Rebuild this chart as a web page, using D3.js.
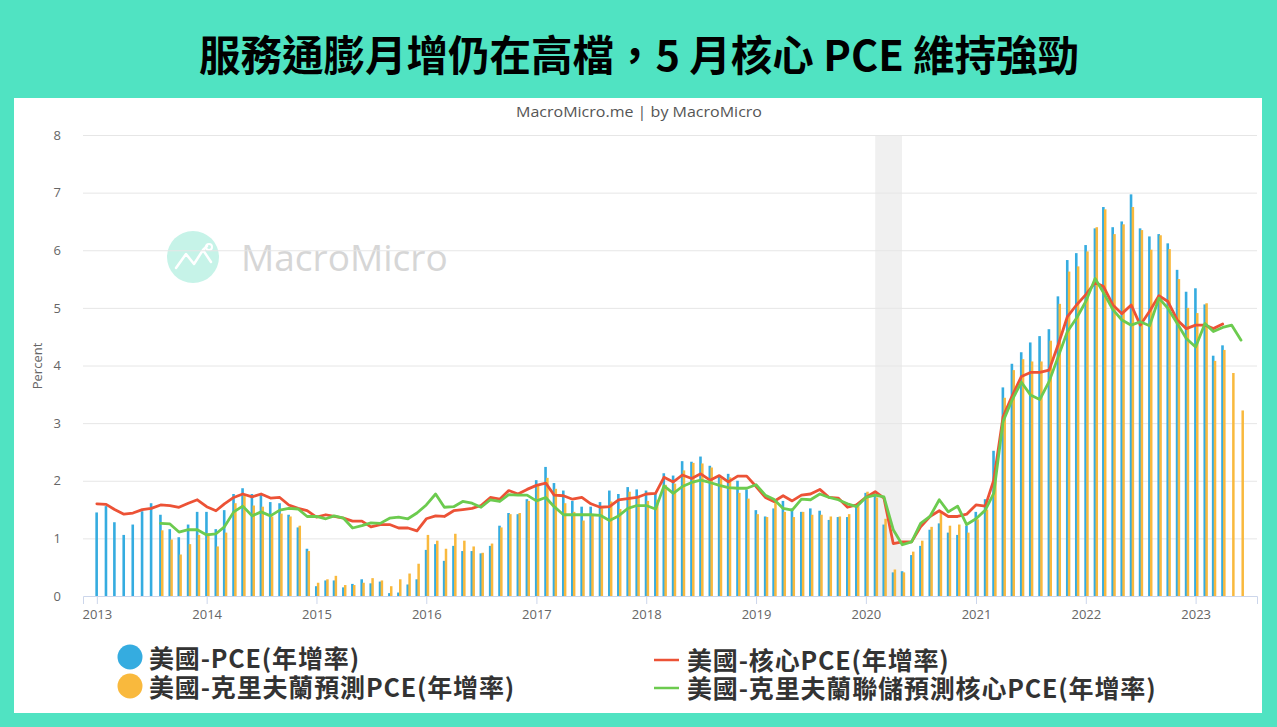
<!DOCTYPE html>
<html>
<head>
<meta charset="utf-8">
<script src="https://cdn.jsdelivr.net/npm/d3@7"></script>
<style>
  html, body { margin: 0; padding: 0; background: #50e3c2; }
  svg { display: block; }
</style>
</head>
<body>
<svg id="chart" width="1277" height="727"></svg>
<script>
// ---------------- DATA ----------------
const title = "服務通膨月增仍在高檔，5 月核心 PCE 維持強勁";
const subtitle = "MacroMicro.me | by MacroMicro";
const seriesNames = ["美國-PCE(年增率)", "美國-核心PCE(年增率)", "美國-克里夫蘭預測PCE(年增率)", "美國-克里夫蘭聯儲預測核心PCE(年增率)"];
const yTicks = [0, 1, 2, 3, 4, 5, 6, 7, 8];
const yearTicks = [2013, 2014, 2015, 2016, 2017, 2018, 2019, 2020, 2021, 2022, 2023];
const recession = ["2020-02-01", "2020-04-30"];

// 美國-PCE(年增率), monthly from 2013-01
const pceStart = "2013-01";
const pce = [
  1.45, 1.56, 1.28, 1.06, 1.24, 1.47, 1.61, 1.41, 1.16, 1.02, 1.24, 1.46,
  1.46, 1.16, 1.49, 1.77, 1.87, 1.77, 1.76, 1.63, 1.61, 1.41, 1.19, 0.82,
  0.17, 0.27, 0.27, 0.15, 0.21, 0.29, 0.22, 0.25, 0.05, 0.06, 0.20, 0.29,
  0.80, 0.90, 0.61, 0.87, 0.78, 0.78, 0.74, 0.87, 1.22, 1.44, 1.42, 1.68,
  2.01, 2.24, 1.96, 1.83, 1.65, 1.55, 1.55, 1.63, 1.83, 1.77, 1.89, 1.85,
  1.83, 1.78, 2.13, 2.09, 2.34, 2.33, 2.42, 2.26, 2.10, 2.12, 2.00, 1.85,
  1.49, 1.38, 1.52, 1.65, 1.52, 1.46, 1.52, 1.48, 1.32, 1.37, 1.37, 1.58,
  1.79, 1.75, 1.24, 0.41, 0.43, 0.71, 0.87, 1.15, 1.26, 1.10, 1.06, 1.22,
  1.46, 1.68, 2.52, 3.62, 4.03, 4.23, 4.40, 4.51, 4.63, 5.20, 5.83, 5.95,
  6.09, 6.38, 6.75, 6.40, 6.50, 6.97, 6.38, 6.24, 6.28, 6.12, 5.66, 5.28,
  5.34, 5.06, 4.17, 4.35
];

// 美國-核心PCE(年增率), monthly from 2013-01
const coreStart = "2013-01";
const corePce = [
  1.60, 1.59, 1.50, 1.42, 1.44, 1.50, 1.52, 1.58, 1.57, 1.54, 1.61, 1.67,
  1.55, 1.48, 1.60, 1.71, 1.77, 1.72, 1.77, 1.70, 1.71, 1.58, 1.52, 1.48,
  1.37, 1.41, 1.38, 1.35, 1.30, 1.30, 1.20, 1.24, 1.24, 1.18, 1.18, 1.13,
  1.34, 1.39, 1.38, 1.48, 1.50, 1.52, 1.57, 1.71, 1.68, 1.83, 1.77, 1.85,
  1.92, 1.96, 1.75, 1.74, 1.68, 1.71, 1.60, 1.54, 1.55, 1.67, 1.69, 1.71,
  1.77, 1.78, 2.06, 1.98, 2.10, 2.04, 2.12, 2.01, 2.09, 1.98, 2.08, 2.08,
  1.90, 1.71, 1.64, 1.74, 1.65, 1.75, 1.77, 1.85, 1.71, 1.70, 1.54, 1.58,
  1.71, 1.81, 1.70, 0.91, 0.94, 0.94, 1.20, 1.38, 1.48, 1.38, 1.38, 1.42,
  1.58, 1.56, 2.01, 3.11, 3.47, 3.81, 3.88, 3.88, 3.92, 4.36, 4.85, 5.05,
  5.23, 5.44, 5.37, 5.05, 4.90, 5.05, 4.70, 4.94, 5.21, 5.11, 4.79, 4.64,
  4.70, 4.70, 4.64, 4.72
];

// 美國-克里夫蘭預測PCE(年增率), monthly from 2013-08
const clevPceStart = "2013-08";
const clevPce = [
                                     1.14, 0.98, 0.72, 0.90, 1.06,
  1.09, 0.86, 1.10, 1.61, 1.75, 1.57, 1.55, 1.38, 1.43, 1.38, 1.22, 0.78,
  0.23, 0.29, 0.35, 0.19, 0.19, 0.23, 0.31, 0.27, 0.17, 0.29, 0.39, 0.56,
  1.06, 0.96, 0.82, 1.08, 0.96, 0.86, 0.75, 0.91, 1.19, 1.42, 1.44, 1.65,
  1.93, 2.05, 1.86, 1.61, 1.46, 1.31, 1.41, 1.52, 1.64, 1.51, 1.81, 1.71,
  1.65, 1.67, 1.93, 1.95, 2.18, 2.31, 2.30, 2.23, 2.04, 2.06, 1.79, 1.69,
  1.42, 1.37, 1.65, 1.46, 1.37, 1.46, 1.41, 1.41, 1.38, 1.38, 1.42, 1.56,
  1.81, 1.71, 1.34, 0.46, 0.41, 0.77, 0.96, 1.20, 1.45, 1.22, 1.24, 1.10,
  1.33, 1.50, 2.27, 3.44, 3.92, 4.11, 4.07, 4.07, 4.43, 5.07, 5.63, 5.72,
  5.98, 6.40, 6.71, 6.28, 6.45, 6.75, 6.35, 6.01, 6.26, 6.02, 5.50, 5.00,
  4.91, 5.08, 4.08, 4.27, 3.87, 3.22
];

// 美國-克里夫蘭聯儲預測核心PCE(年增率), monthly from 2013-08
const clevCoreStart = "2013-08";
const clevCore = [
                                     1.26, 1.25, 1.11, 1.15, 1.15,
  1.06, 1.08, 1.20, 1.46, 1.56, 1.39, 1.46, 1.39, 1.49, 1.52, 1.51, 1.38,
  1.38, 1.34, 1.39, 1.35, 1.18, 1.22, 1.27, 1.26, 1.35, 1.37, 1.34, 1.44,
  1.58, 1.77, 1.54, 1.55, 1.64, 1.61, 1.54, 1.67, 1.64, 1.76, 1.75, 1.75,
  1.65, 1.71, 1.55, 1.41, 1.41, 1.41, 1.41, 1.40, 1.31, 1.39, 1.52, 1.57,
  1.57, 1.51, 1.91, 1.78, 1.90, 1.97, 2.01, 1.97, 1.92, 1.88, 1.87, 1.87,
  1.93, 1.75, 1.68, 1.52, 1.49, 1.68, 1.67, 1.77, 1.71, 1.67, 1.60, 1.55,
  1.71, 1.75, 1.72, 1.15, 0.89, 0.94, 1.26, 1.38, 1.67, 1.46, 1.56, 1.24,
  1.34, 1.49, 1.78, 3.03, 3.40, 3.71, 3.49, 3.41, 3.72, 4.15, 4.59, 4.82,
  5.11, 5.51, 5.26, 4.97, 4.79, 4.70, 4.76, 4.69, 5.17, 4.99, 4.73, 4.47,
  4.32, 4.73, 4.59, 4.66, 4.70, 4.44
];

// ---------------- HELPERS ----------------
const parseMonth = d3.timeParse("%Y-%m");
const parseDay = d3.timeParse("%Y-%m-%d");
function toSeries(startStr, values) {
  const s = parseMonth(startStr);
  return values.map((v, i) => ({ date: d3.timeMonth.offset(s, i), value: v }));
}
const pceData = toSeries(pceStart, pce);
const coreData = toSeries(coreStart, corePce);
const clevPceData = toSeries(clevPceStart, clevPce);
const clevCoreData = toSeries(clevCoreStart, clevCore);

const colors = { pce: "#35ace0", core: "#ec5236", clevPce: "#f9b93d", clevCore: "#6ccb4f" };

// ---------------- LAYOUT ----------------
const svg = d3.select("#chart");
const plot = { left: 83, right: 1257, top: 135, bottom: 596 };

svg.append("text")
  .attr("x", 639).attr("y", 53)
  .attr("text-anchor", "middle").attr("dominant-baseline", "central")
  .attr("font-family", "'Noto Sans CJK TC', 'Noto Sans CJK SC', sans-serif")
  .attr("font-weight", 700).attr("font-size", 41.5).attr("fill", "#000")
  .text(title);

svg.append("rect").attr("x", 14).attr("y", 98).attr("width", 1248).attr("height", 615).attr("fill", "#fff");

svg.append("text")
  .attr("x", 639).attr("y", 111)
  .attr("text-anchor", "middle").attr("dominant-baseline", "central")
  .attr("font-family", "'Open Sans', 'Noto Sans', sans-serif")
  .attr("font-size", 15).attr("fill", "#555")
  .attr("textLength", 246).attr("lengthAdjust", "spacingAndGlyphs")
  .text(subtitle);

// scales
const x = d3.scaleTime()
  .domain([parseDay("2012-11-16"), parseDay("2023-07-24")])
  .range([plot.left, plot.right]);
const y = d3.scaleLinear().domain([0, 8]).range([plot.bottom, plot.top]);

// watermark
const wm = svg.append("g");
wm.append("circle").attr("cx", 193).attr("cy", 257).attr("r", 26).attr("fill", "#c6f3e8");
wm.append("path")
  .attr("d", "M176,268 L186,254 L194,264 L203,250 L211,262 M203,250 L207,246")
  .attr("fill", "none").attr("stroke", "#fff").attr("stroke-width", 2.5)
  .attr("stroke-linecap", "round").attr("stroke-linejoin", "round");
wm.append("circle").attr("cx", 209).attr("cy", 247).attr("r", 3).attr("fill", "none").attr("stroke", "#fff").attr("stroke-width", 2);
wm.append("text")
  .attr("x", 241).attr("y", 271)
  .attr("font-family", "'Open Sans', 'Noto Sans', sans-serif")
  .attr("font-size", 37).attr("fill", "#d6d6d6")
  .text("MacroMicro");

// recession band
svg.append("rect")
  .attr("x", x(parseDay(recession[0])))
  .attr("y", plot.top)
  .attr("width", x(parseDay(recession[1])) - x(parseDay(recession[0])))
  .attr("height", plot.bottom - plot.top)
  .attr("fill", "#f0f0f0");

// grid + y axis
const yAxis = d3.axisLeft(y).tickValues(yTicks).tickSize(-(plot.right - plot.left)).tickPadding(22);
const gy = svg.append("g").attr("transform", `translate(${plot.left},0)`).call(yAxis);
gy.select(".domain").remove();
gy.selectAll(".tick line").attr("stroke", "#e6e6e6").attr("stroke-width", 1);
gy.selectAll(".tick").filter(d => d === 0).select("line").remove();
gy.selectAll("text")
  .attr("font-family", "'Open Sans', 'Noto Sans', sans-serif")
  .attr("font-size", 13).attr("fill", "#666");

svg.append("text")
  .attr("transform", "translate(37,366) rotate(-90)")
  .attr("text-anchor", "middle").attr("dominant-baseline", "central")
  .attr("font-family", "'Open Sans', 'Noto Sans', sans-serif")
  .attr("font-size", 13).attr("fill", "#666")
  .text("Percent");

// bars
const barsG = svg.append("g");
barsG.selectAll("rect.pce").data(pceData).join("rect")
  .attr("class", "pce")
  .attr("x", d => x(d.date) - 1.5).attr("width", 2.6)
  .attr("y", d => y(d.value)).attr("height", d => y(0) - y(d.value))
  .attr("fill", colors.pce);
barsG.selectAll("rect.clev").data(clevPceData).join("rect")
  .attr("class", "clev")
  .attr("x", d => x(d.date) + 0.4).attr("width", 2.5)
  .attr("y", d => y(d.value)).attr("height", d => y(0) - y(d.value))
  .attr("fill", colors.clevPce);

// x axis
const xAxis = d3.axisBottom(x)
  .tickValues(yearTicks.map(yr => new Date(yr, 0, 1)))
  .tickFormat(d3.timeFormat("%Y"))
  .tickSize(8).tickPadding(6);
const gx = svg.append("g").attr("transform", `translate(0,${plot.bottom})`).call(xAxis);
gx.select(".domain").attr("stroke", "#ccd6eb");
gx.selectAll(".tick line").attr("stroke", "#ccd6eb");
gx.selectAll("text")
  .attr("font-family", "'Open Sans', 'Noto Sans', sans-serif")
  .attr("font-size", 13).attr("fill", "#666");

// lines
const line = d3.line().x(d => x(d.date)).y(d => y(d.value));
svg.append("path").datum(coreData).attr("d", line)
  .attr("fill", "none").attr("stroke", colors.core).attr("stroke-width", 2.8)
  .attr("stroke-linejoin", "round").attr("stroke-linecap", "round");
svg.append("path").datum(clevCoreData).attr("d", line)
  .attr("fill", "none").attr("stroke", colors.clevCore).attr("stroke-width", 2.8)
  .attr("stroke-linejoin", "round").attr("stroke-linecap", "round");

// legend
const legendFont = "'Noto Sans CJK TC', 'Noto Sans CJK SC', sans-serif";
const legendItems = [
  { name: seriesNames[0], type: "circle", color: colors.pce, mx: 130, tx: 149, y: 657 },
  { name: seriesNames[2], type: "circle", color: colors.clevPce, mx: 130, tx: 149, y: 686 },
  { name: seriesNames[1], type: "line", color: colors.core, mx: 666, tx: 687, y: 659 },
  { name: seriesNames[3], type: "line", color: colors.clevCore, mx: 666, tx: 687, y: 687 }
];
const lg = svg.append("g");
legendItems.forEach(it => {
  if (it.type === "circle") {
    lg.append("circle").attr("cx", it.mx).attr("cy", it.y).attr("r", 12.5).attr("fill", it.color);
  } else {
    lg.append("line").attr("x1", it.mx - 12).attr("x2", it.mx + 13)
      .attr("y1", it.y + 1).attr("y2", it.y + 1)
      .attr("stroke", it.color).attr("stroke-width", 2.5);
  }
  lg.append("text")
    .attr("x", it.tx).attr("y", it.y)
    .attr("dominant-baseline", "central")
    .attr("font-family", legendFont).attr("font-weight", 700)
    .attr("font-size", 25).attr("letter-spacing", 0.85).attr("fill", "#333")
    .text(it.name);
});
</script>
</body>
</html>
